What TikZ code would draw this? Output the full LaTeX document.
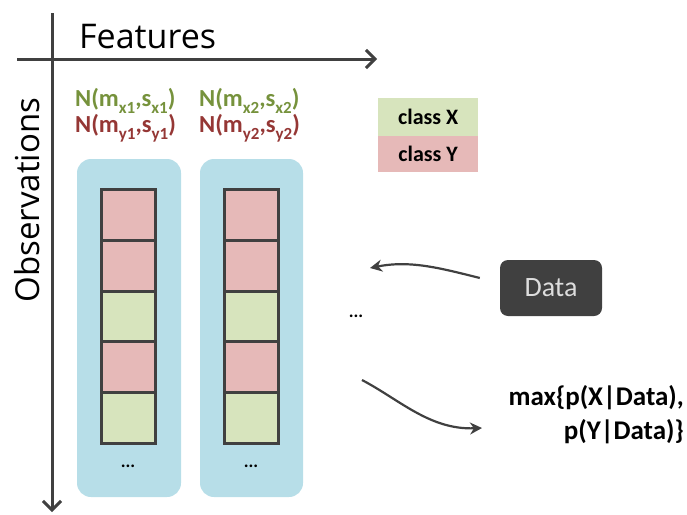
\documentclass[tikz,border=0pt]{standalone}
\usepackage{fontspec}
\setmainfont{Carlito}
\newfontfamily\axisfont{Open Sans}
\usetikzlibrary{arrows.meta}
\definecolor{dk}{HTML}{404040}
\definecolor{bluebg}{HTML}{B7DEE8}
\definecolor{pinkc}{HTML}{E6B9B8}
\definecolor{greenc}{HTML}{D7E4BD}
\definecolor{greentxt}{HTML}{76923C}
\definecolor{redtxt}{HTML}{953735}
\definecolor{datatxt}{HTML}{DDDDDD}
\newcommand\mysub[1]{\raisebox{-0.28em}{\fontsize{17}{17}\selectfont #1}}
\tikzset{
  axis/.style={draw=dk, line width=3pt, -{Straight Barb[length=9pt,width=18pt,line width=3pt]}},
  colbg/.style={fill=bluebg, rounded corners=14pt, draw=none},
  cellp/.style={fill=pinkc, draw=dk, line width=3pt},
  cellg/.style={fill=greenc, draw=dk, line width=3pt},
  lab/.style={font=\bfseries\fontsize{24.5}{26}\selectfont, inner sep=0pt, anchor=west},
  legx/.style={fill=greenc, minimum width=100pt, minimum height=38pt, inner sep=0pt, font=\bfseries\fontsize{22}{24}\selectfont},
  legy/.style={fill=pinkc, minimum width=100pt, minimum height=36pt, inner sep=0pt, font=\bfseries\fontsize{22}{24}\selectfont},
  databox/.style={fill=dk, rounded corners=8pt, minimum width=102pt, minimum height=56pt, inner sep=0pt, text=datatxt, font=\fontsize{28}{30}\selectfont},
  curve/.style={draw=dk, line width=2.2pt, -{Stealth[length=12pt,width=12pt]}},
  dots/.style={font=\bfseries\fontsize{18}{20}\selectfont, inner sep=0pt}
}
\begin{document}
\begin{tikzpicture}[x=1pt,y=-1pt]
\useasboundingbox (0,0) rectangle (687,514);
% axes
\coordinate (hstart) at (17,59);
\coordinate (hend) at (377,59);
\coordinate (vstart) at (52,13);
\coordinate (vend) at (52,512);
\draw[axis] (hstart) -- (hend);
\draw[axis] (vstart) -- (vend);
\node[font=\axisfont\fontsize{34}{36}\selectfont, anchor=base west, inner sep=0pt] (feat) at (79,48) {Features};
\node[font=\axisfont\fontsize{33}{35}\selectfont, rotate=90, inner sep=0pt] (obs) at (27,200) {Observations};
% columns
\path[colbg] (77,159) rectangle (181,497);
\path[colbg] (200,159) rectangle (303,497);
\foreach \c/\xl in {1/100,2/223}{
  \node[cellp, minimum width=54pt, minimum height=50.8pt, inner sep=0pt, anchor=north west] (c\c a) at (\xl,188) {};
  \node[cellp, minimum width=54pt, minimum height=50.8pt, inner sep=0pt, anchor=north west] (c\c b) at (\xl,238.8) {};
  \node[cellg, minimum width=54pt, minimum height=50.8pt, inner sep=0pt, anchor=north west] (c\c c) at (\xl,289.6) {};
  \node[cellp, minimum width=54pt, minimum height=50.8pt, inner sep=0pt, anchor=north west] (c\c d) at (\xl,340.4) {};
  \node[cellg, minimum width=54pt, minimum height=50.8pt, inner sep=0pt, anchor=north west] (c\c e) at (\xl,391.2) {};
}
\node[dots] (d1) at (128,466) {...};
\node[dots] (d2) at (251,466) {...};
% labels
\node[lab, text=greentxt] (nx1) at (75,101) {N(m\mysub{x1},s\mysub{x1})};
\node[lab, text=redtxt] (ny1) at (75,128) {N(m\mysub{y1},s\mysub{y1})};
\node[lab, text=greentxt] (nx2) at (199,101) {N(m\mysub{x2},s\mysub{x2})};
\node[lab, text=redtxt] (ny2) at (199,128) {N(m\mysub{y2},s\mysub{y2})};
% legend
\node[legx, anchor=north west] (clx) at (378,98) {class X};
\node[legy, anchor=north west] (cly) at (378,136) {class Y};
% data
\node[databox] (data) at (551,288) {Data};
\node[dots] (d3) at (356,316) {...};
\coordinate (a1end) at (370,268);
\coordinate (a2start) at (362,380);
\node[font=\bfseries\fontsize{27}{34}\selectfont, align=right, anchor=east, inner sep=0pt] (res) at (684,415) {max\{p(X|Data),\\p(Y|Data)\}};
\coordinate (a2end) at (482,428);
\draw[curve] (data.west) ++(-20,-10) .. controls (440,268) and (410,260) .. (a1end);
\draw[curve] (a2start) .. controls (400,400) and (430,430) .. (a2end);
\end{tikzpicture}
\end{document}
